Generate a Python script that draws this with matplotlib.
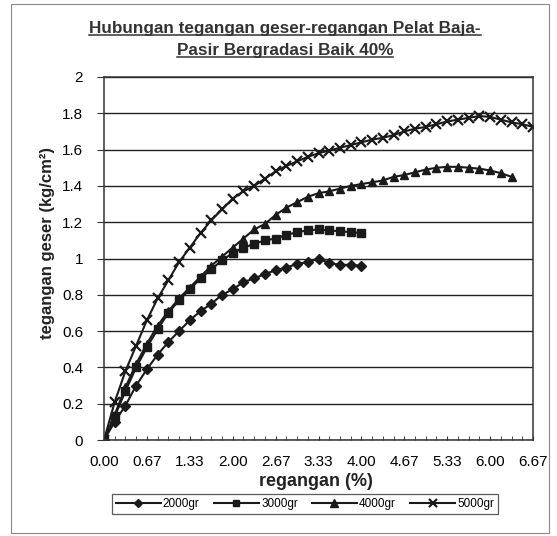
import numpy as np
import matplotlib
matplotlib.use("Agg")
import matplotlib.pyplot as plt
from matplotlib.lines import Line2D
from matplotlib.patches import Rectangle

plt.rcParams['font.family'] = ['Liberation Sans', 'DejaVu Sans']

# strain step is 1/6 %, every series starts at 0
step = 1.0 / 6.0

geser_2000 = [0, 0.10, 0.19, 0.30, 0.39, 0.47, 0.54, 0.60, 0.66, 0.71, 0.75, 0.80,
              0.83, 0.87, 0.89, 0.915, 0.935, 0.95, 0.97, 0.98, 1.00, 0.975, 0.965,
              0.965, 0.96]
geser_3000 = [0, 0.13, 0.27, 0.40, 0.51, 0.61, 0.70, 0.77, 0.83, 0.89, 0.94, 0.99,
              1.03, 1.06, 1.08, 1.10, 1.11, 1.13, 1.145, 1.155, 1.16, 1.155, 1.15,
              1.145, 1.14]
geser_4000 = [0, 0.14, 0.29, 0.42, 0.53, 0.63, 0.71, 0.78, 0.84, 0.90, 0.96, 1.01,
              1.06, 1.11, 1.16, 1.19, 1.24, 1.28, 1.31, 1.34, 1.36, 1.37, 1.385,
              1.40, 1.41, 1.42, 1.43, 1.45, 1.46, 1.475, 1.49, 1.50, 1.505, 1.505,
              1.50, 1.495, 1.485, 1.47, 1.45]
geser_5000 = [0, 0.21, 0.38, 0.52, 0.66, 0.78, 0.88, 0.98, 1.06, 1.14, 1.21, 1.27,
              1.33, 1.37, 1.40, 1.44, 1.48, 1.51, 1.535, 1.56, 1.58, 1.595, 1.61,
              1.625, 1.64, 1.655, 1.665, 1.68, 1.70, 1.715, 1.725, 1.74, 1.755,
              1.765, 1.775, 1.785, 1.78, 1.765, 1.75, 1.74, 1.725]

labels = ['2000gr', '3000gr', '4000gr', '5000gr']
x_ticklabels = ['0.00', '0.67', '1.33', '2.00', '2.67', '3.33', '4.00', '4.67',
                '5.33', '6.00', '6.67']
y_ticks = [0, 0.2, 0.4, 0.6, 0.8, 1, 1.2, 1.4, 1.6, 1.8, 2]
y_ticklabels = ['0', '0.2', '0.4', '0.6', '0.8', '1', '1.2', '1.4', '1.6', '1.8', '2']

W, H = 557, 536
fig = plt.figure(figsize=(W / 100, H / 100), dpi=100)
ax = fig.add_axes([104 / W, 1 - 440 / H, (533 - 104) / W, (440 - 77) / H])

ink = '#1a1a1a'
styles = [dict(marker='D', ms=4.6),
          dict(marker='s', ms=5.2),
          dict(marker='^', ms=6.2),
          dict(marker='x', ms=7, mew=1.6)]
series = [geser_2000, geser_3000, geser_4000, geser_5000]
for vals, lab, st in zip(series, labels, styles):
    xs = np.arange(len(vals)) * step
    ax.plot(xs, vals, color=ink, lw=1.5, label=lab, mfc=ink, mec=ink, **st)

ax.set_xlim(0, 40 * step)
ax.set_ylim(0, 2)
ax.set_xticks(np.arange(11) * 4 * step)
ax.set_xticklabels(x_ticklabels, fontsize=11)
ax.set_xticks(np.arange(41) * step, minor=True)
ax.tick_params(axis='x', which='both', direction='in', length=3, color='#333333', pad=11)
ax.set_yticks(y_ticks)
ax.set_yticklabels(y_ticklabels, fontsize=11)
ax.tick_params(axis='y', direction='out', length=5, color='#333333', pad=10)
ax.yaxis.grid(True, color='#222222', lw=1.0)
ax.set_axisbelow(True)
for sp in ax.spines.values():
    sp.set_color('#333333')
    sp.set_linewidth(1.1)

fig.text(48 / W, 1 - 243 / H, 'tegangan geser (kg/cm²)', rotation=90, ha='center',
         va='center', fontsize=12, fontweight='bold', color='#222222')
fig.text(316 / W, 1 - 482 / H, 'regangan (%)', ha='center', va='center',
         fontsize=13, fontweight='bold', color='#222222')

t1 = fig.text(285 / W, 1 - 29 / H, 'Hubungan tegangan geser-regangan Pelat Baja-',
              ha='center', va='center', fontsize=12.3, fontweight='bold', color='#333333')
t2 = fig.text(285 / W, 1 - 51 / H, 'Pasir Bergradasi Baik 40%', ha='center',
              va='center', fontsize=12.3, fontweight='bold', color='#333333')

leg = fig.legend(loc='center', bbox_to_anchor=(305 / W, 1 - 504 / H), ncol=4,
                 fontsize=8.5, frameon=True, fancybox=False, edgecolor='#333333',
                 handlelength=3.8, handletextpad=0.2, columnspacing=1.2,
                 borderpad=0.35, markerscale=0.85)
leg.get_frame().set_linewidth(0.9)

fig.patches.append(Rectangle((11 / W, 1 - 533 / H), (549 - 11) / W, (533 - 4) / H,
                             transform=fig.transFigure, fill=False, ec='#888888', lw=0.8))

# underline the title lines
fig.canvas.draw()
r = fig.canvas.get_renderer()
for t in (t1, t2):
    bb = t.get_window_extent(r).transformed(fig.transFigure.inverted())
    fig.add_artist(Line2D([bb.x0, bb.x1], [bb.y0 + 0.002, bb.y0 + 0.002],
                          transform=fig.transFigure, color='#333333', lw=1.1))

fig.savefig('out.png', dpi=100)
